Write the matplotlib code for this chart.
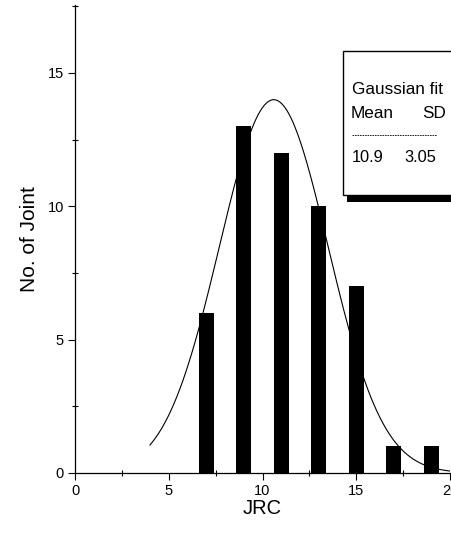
import numpy as np
import matplotlib
matplotlib.use("Agg")
import matplotlib.pyplot as plt
from matplotlib.patches import Rectangle
from matplotlib.ticker import MultipleLocator

plt.rcParams['font.family'] = ['Liberation Sans', 'DejaVu Sans']

# Data
jrc_centers = [7, 9, 11, 13, 15, 17, 19]
joint_counts = [6, 13, 12, 10, 7, 1, 1]
fit_mean_text = "10.9"
fit_sd_text = "3.05"
# Drawn Gaussian curve parameters
curve_mean = 10.6
curve_sd = 2.9
curve_peak = 14.0
curve_x_range = [4.0, 20.0]

fig = plt.figure(figsize=(4.52, 5.4), dpi=100)
ax = fig.add_axes([75/452, 1-473/540, (450-75)/452, (473-5)/540])

ax.bar(jrc_centers, joint_counts, width=0.8, color='black', zorder=3)

xs = np.linspace(curve_x_range[0], curve_x_range[1], 300)
ys = curve_peak * np.exp(-(xs - curve_mean) ** 2 / (2 * curve_sd ** 2))
ax.plot(xs, ys, color='black', lw=0.8, zorder=4)

ax.set_xlim(0, 20)
ax.set_ylim(0, 17.55)
ax.spines['top'].set_visible(False)
ax.spines['right'].set_visible(False)
ax.spines['left'].set_linewidth(0.9)
ax.spines['bottom'].set_linewidth(0.9)
ax.xaxis.set_major_locator(MultipleLocator(5))
ax.xaxis.set_minor_locator(MultipleLocator(2.5))
ax.yaxis.set_major_locator(MultipleLocator(5))
ax.yaxis.set_minor_locator(MultipleLocator(2.5))
ax.tick_params(which='major', direction='out', length=5, width=0.8, labelsize=10.5, pad=3)
ax.tick_params(which='minor', direction='inout', length=5, width=0.8)
ax.set_ylabel("No. of Joint", fontsize=15, labelpad=6)
ax.set_xlabel("JRC", fontsize=14.5, labelpad=1)

# Legend box with shadow (figure pixel coordinates)
def fx(px):
    return px / 452
def fy(py):
    return 1 - py / 540

fig.patches.append(Rectangle((fx(347), fy(202)), fx(460) - fx(347), fy(195) - fy(202),
                             transform=fig.transFigure, facecolor='black', edgecolor='none', zorder=5))
fig.patches.append(Rectangle((fx(343), fy(195)), fx(470) - fx(343), fy(51) - fy(195),
                             transform=fig.transFigure, facecolor='white', edgecolor='black', lw=1.0, zorder=6))
fig.text(fx(352), fy(90), "Gaussian fit", fontsize=12.3, va='center', ha='left', zorder=7)
fig.text(fx(351), fy(113), "Mean", fontsize=12.3, va='center', ha='left', zorder=7)
fig.text(fx(422), fy(113), "SD", fontsize=12.3, va='center', ha='left', zorder=7)
fig.lines.append(plt.Line2D([fx(352), fx(437)], [fy(135), fy(135)], transform=fig.transFigure,
                            color='black', lw=0.6, ls=(0, (2, 1)), zorder=7))
fig.text(fx(352), fy(158), fit_mean_text, fontsize=11.8, va='center', ha='left', zorder=7)
fig.text(fx(404), fy(158), fit_sd_text, fontsize=11.8, va='center', ha='left', zorder=7)

fig.savefig("out.png", dpi=100)
